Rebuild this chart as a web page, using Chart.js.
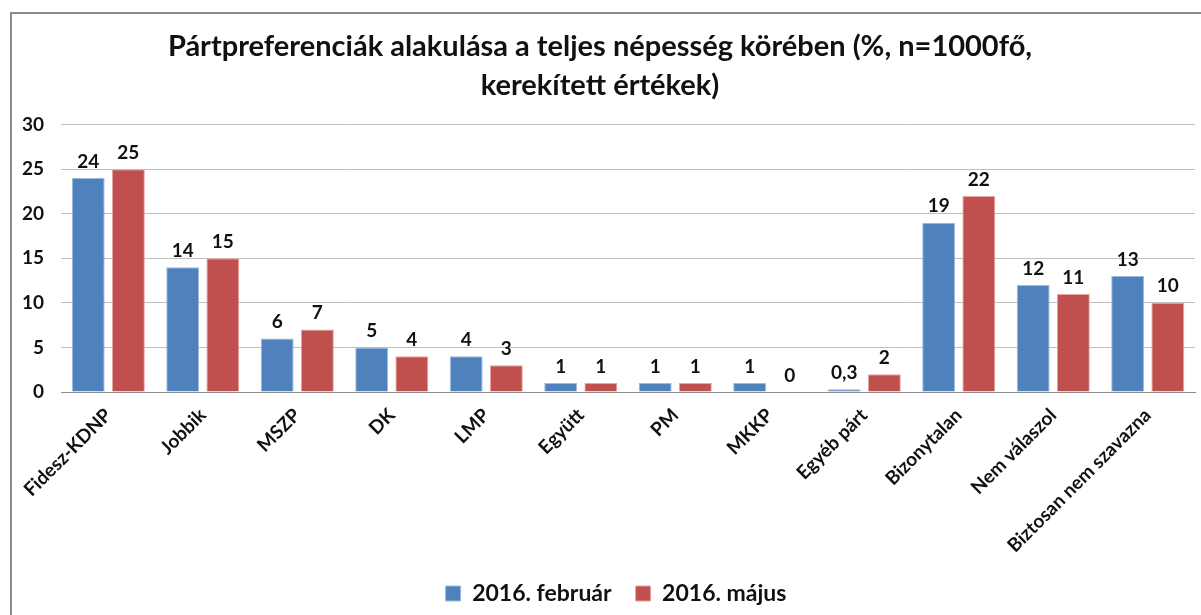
<!DOCTYPE html>
<html>
<head>
<meta charset="utf-8">
<script src="https://cdn.jsdelivr.net/npm/chart.js@4"></script>
<style>
  html, body { margin: 0; padding: 0; background: #fff; }
  #wrap { position: relative; width: 1201px; height: 615px; overflow: hidden; }
  #frame { position: absolute; left: 10px; top: 12px; width: 1300px; height: 700px;
           border-left: 2px solid #8c8c8c; border-top: 2px solid #8c8c8c; }
  #c { position: absolute; left: 0; top: 0; }
</style>
</head>
<body>
<div id="wrap">
  <div id="frame"></div>
  <canvas id="c" width="1201" height="615"></canvas>
</div>
<script>
// kategóriák és értékek (%)
const categories = ['Fidesz-KDNP', 'Jobbik', 'MSZP', 'DK', 'LMP', 'Együtt', 'PM', 'MKKP',
                    'Egyéb párt', 'Bizonytalan', 'Nem válaszol', 'Biztosan nem szavazna'];
const februar = [24, 14, 6, 5, 4, 1, 1, 1, 0.3, 19, 12, 13];
const majus = [25, 15, 7, 4, 3, 1, 1, 0, 2, 22, 11, 10];
const seriesNames = ['2016. február', '2016. május'];
const yTicks = [0, 5, 10, 15, 20, 25, 30];

const FONT = 'Lato, "Open Sans", sans-serif';

// értékcímkék a hasábok fölé
const valueLabels = {
  id: 'valueLabels',
  afterDatasetsDraw(chart) {
    const ctx = chart.ctx;
    ctx.save();
    ctx.font = 'bold 19px ' + FONT;
    ctx.fillStyle = '#111';
    ctx.textAlign = 'center';
    ctx.textBaseline = 'bottom';
    chart.data.datasets.forEach((ds, i) => {
      chart.getDatasetMeta(i).data.forEach((bar, j) => {
        const txt = String(ds.data[j]).replace('.', ',');
        ctx.fillText(txt, bar.x, bar.y - 7);
      });
    });
    ctx.restore();
  }
};

// jelmagyarázat kicsit jobbra, mint az eredetin
const legendShift = {
  id: 'legendShift',
  afterLayout(chart) {
    chart.legend.left += 16;
    chart.legend.right += 16;
  }
};

new Chart(document.getElementById('c'), {
  type: 'bar',
  data: {
    labels: categories,
    datasets: [
      { label: seriesNames[0], data: februar, backgroundColor: '#4F81BD',
        borderColor: '#9dbbe0', borderWidth: 1 },
      { label: seriesNames[1], data: majus, backgroundColor: '#C0504D',
        borderColor: '#e6a4a2', borderWidth: 1 }
    ]
  },
  options: {
    responsive: false,
    animation: false,
    categoryPercentage: 0.85,
    barPercentage: 0.82,
    layout: { padding: { left: 5, right: 6, top: 28, bottom: 0 } },
    plugins: {
      title: {
        display: true,
        text: ['Pártpreferenciák alakulása a teljes népesség körében (%, n=1000fő,',
               'kerekített értékek)'],
        color: '#111',
        font: { family: FONT, size: 29, weight: 'bold', lineHeight: 1.32 },
        padding: { top: 0, bottom: 20 }
      },
      legend: {
        position: 'bottom',
        labels: {
          color: '#111',
          boxWidth: 15, boxHeight: 15,
          padding: 24,
          font: { family: FONT, size: 23, weight: 'bold' }
        }
      },
      tooltip: { enabled: false }
    },
    scales: {
      x: {
        grid: { display: false },
        border: { color: '#8c8c8c', width: 1 },
        ticks: {
          color: '#111', maxRotation: 45, minRotation: 45, padding: 4,
          font: { family: FONT, size: 19, weight: 'bold' }
        },
        afterFit(axis) { axis.height -= 3; }
      },
      y: {
        min: 0, max: 30,
        afterBuildTicks(axis) { axis.ticks = yTicks.map(v => ({ value: v })); },
        grid: { color: '#bfbfbf', drawTicks: false },
        border: { display: false },
        ticks: {
          color: '#111', padding: 17,
          font: { family: FONT, size: 19, weight: 'bold' }
        }
      }
    }
  },
  plugins: [valueLabels, legendShift]
});
</script>
</body>
</html>
